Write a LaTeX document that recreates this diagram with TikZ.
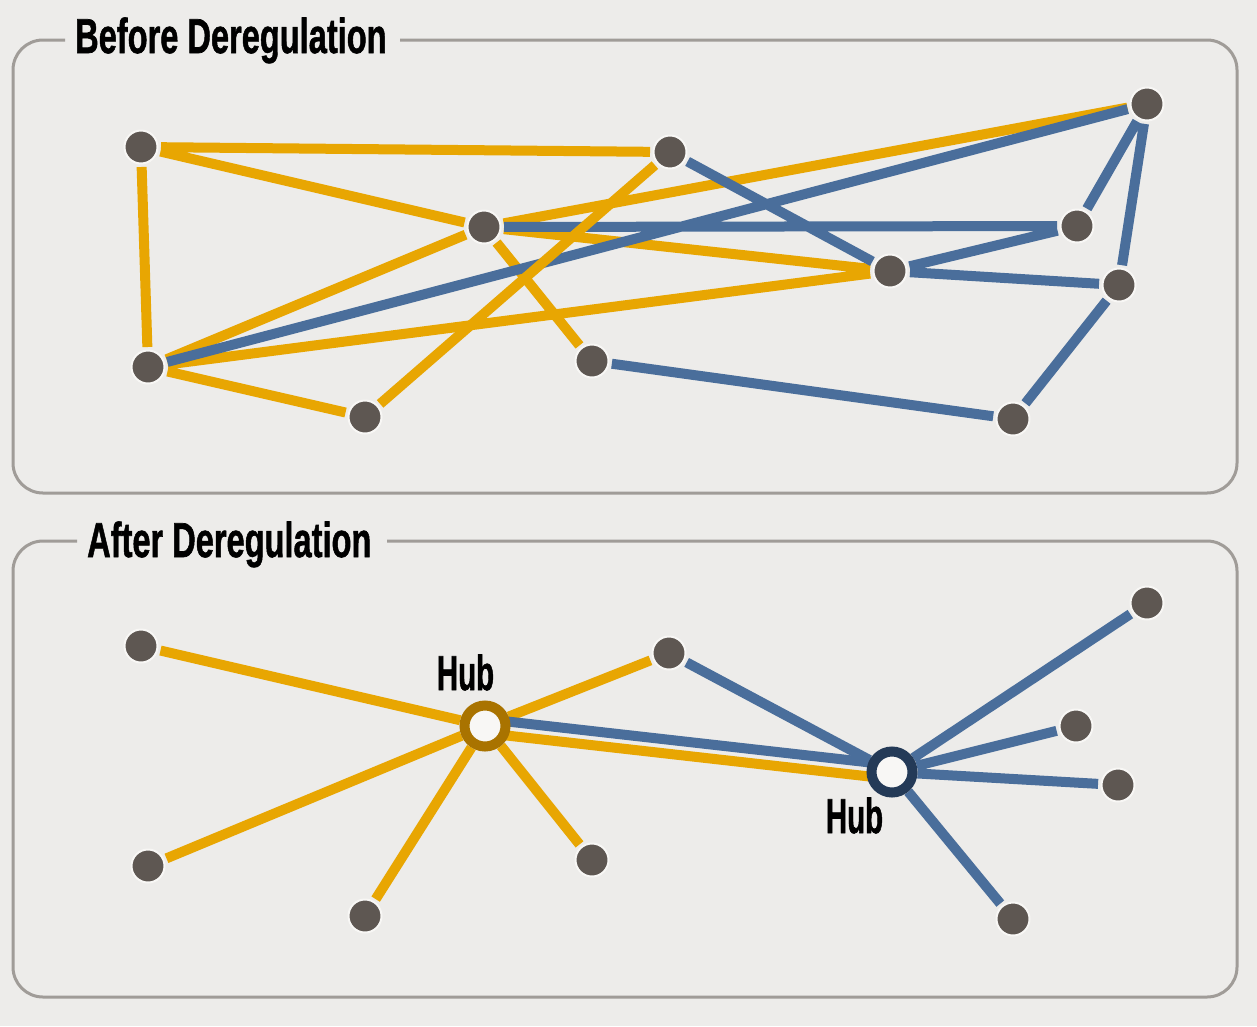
\documentclass[tikz,border=0pt]{standalone}
\usepackage{graphicx}
\usepackage{fontspec}
\setmainfont{Liberation Sans}
\newfontfamily\heavy{Liberation Sans Bold}[FakeBold=1.4]
\usetikzlibrary{calc}

\definecolor{paper}{HTML}{EDECEA}
\definecolor{frame}{HTML}{A09C98}
\definecolor{dotgray}{HTML}{5E5752}
\definecolor{halo}{HTML}{F8F7F5}
\definecolor{gold}{HTML}{E8A602}
\definecolor{steel}{HTML}{4A6E9B}
\definecolor{hubgold}{HTML}{A97300}
\definecolor{hubsteel}{HTML}{243A57}

\pgfdeclarelayer{back}
\pgfdeclarelayer{links}
\pgfsetlayers{back,links,main}

\newcommand{\narrow}[2][0.665]{\scalebox{#1}[1]{#2}}

\tikzset{
  city/.style={circle, fill=dotgray, draw=halo, line width=2pt,
    minimum size=33pt, inner sep=0pt, outer sep=3.5pt},
  hub/.style={circle, fill=halo, line width=10pt, minimum size=41pt,
    inner sep=0pt, outer sep=5pt},
  goldline/.style={draw=gold, line width=10pt},
  steelline/.style={draw=steel, line width=10pt},
  panel/.style={draw=frame, line width=3pt, rounded corners=30pt},
  label/.style={font=\fontsize{49}{50}\heavy, inner sep=0pt},
}

\begin{document}
\begin{tikzpicture}[x=1pt, y=-1pt]
  \useasboundingbox (0,0) rectangle (1257,1026);
  \begin{pgfonlayer}{back}
    \fill[paper] (0,0) rectangle (1257,1026);
    \draw[panel] (400,40) -- (1237,40) -- (1237,493) -- (13,493) -- (13,40) -- (65,40);
    \draw[panel] (387,541) -- (1237,541) -- (1237,997) -- (13,997) -- (13,541) -- (77,541);
  \end{pgfonlayer}

  % before deregulation
  \node[label, anchor=base west] (before) at (75,53) {\narrow{Before Deregulation}};
  \node[city] (A) at (141,147) {};
  \node[city] (B) at (670,152) {};
  \node[city] (C) at (484,227) {};
  \node[city] (D) at (1147,104) {};
  \node[city] (E) at (1077,226) {};
  \node[city] (F) at (890,271) {};
  \node[city] (G) at (1119,285) {};
  \node[city] (H) at (148,367) {};
  \node[city] (I) at (365,417) {};
  \node[city] (J) at (592,361) {};
  \node[city] (K) at (1013,419) {};

  \begin{pgfonlayer}{links}
    \draw[goldline] (A) -- (B) (A) -- (C) (A) -- (H) (C) -- (D) (C) -- (F)
      (C) -- (H) (C) -- (J) (H) -- (F) (H) -- (I);
    \draw[steelline] (B) -- (F) (C) -- (E) (H) -- (D) (D) -- (E) (D) -- (G)
      (F) -- (E) (F) -- (G) (G) -- (K) (J) -- (K);
    \draw[goldline] (B) -- (I);
  \end{pgfonlayer}

  % after deregulation
  \node[label, anchor=base west] (after) at (87,557) {\narrow{After Deregulation}};
  \node[city] (a) at (141,646) {};
  \node[city] (b) at (669,653) {};
  \node[hub, draw=hubgold] (h1) at (485,726) {};
  \node[city] (d) at (1147,603) {};
  \node[city] (e) at (1076,726) {};
  \node[hub, draw=hubsteel] (h2) at (892,772) {};
  \node[city] (g) at (1118,785) {};
  \node[city] (h) at (148,866) {};
  \node[city] (i) at (365,916) {};
  \node[city] (j) at (592,860) {};
  \node[city] (k) at (1013,919) {};
  \node[label, anchor=base] (hubA) at (465.5,690) {\narrow[0.6]{Hub}};
  \node[label, anchor=base] (hubB) at (854.5,833) {\narrow[0.6]{Hub}};

  \begin{pgfonlayer}{links}
    \draw[goldline] (a) -- (h1) (b) -- (h1) (h) -- (h1) (i) -- (h1) (j) -- (h1);
    \draw[goldline] ($(h1)!7pt!-90:(h2)$) -- ($(h2)!7pt!90:(h1)$);
    \draw[steelline] ($(h1)!7pt!90:(h2)$) -- ($(h2)!7pt!-90:(h1)$);
    \draw[steelline] (b) -- (h2) (d) -- (h2) (e) -- (h2) (g) -- (h2) (k) -- (h2);
  \end{pgfonlayer}
\end{tikzpicture}
\end{document}
